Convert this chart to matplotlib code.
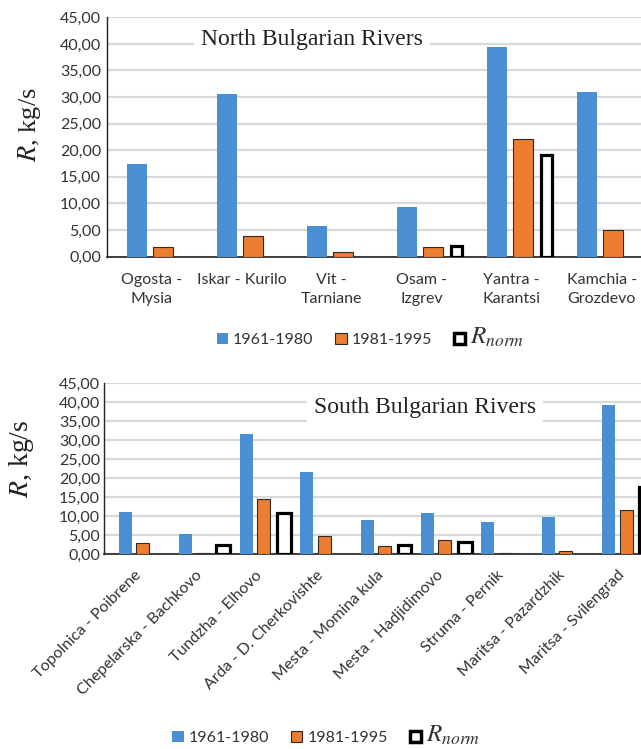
import numpy as np
import matplotlib.pyplot as plt
from matplotlib.patches import Rectangle

# Sediment runoff R (kg/s) for two periods plus the norm value
north_rivers = ['Ogosta -\nMysia', 'Iskar - Kurilo', 'Vit -\nTarniane',
                'Osam -\nIzgrev', 'Yantra -\nKarantsi', 'Kamchia -\nGrozdevo']
north_1961 = [17.4, 30.6, 5.8, 9.4, 39.5, 31.0]
north_1981 = [1.9, 3.9, 0.8, 1.9, 22.1, 5.0]
north_rnorm = [np.nan, np.nan, np.nan, 2.1, 19.1, np.nan]

south_rivers = ['Topolnica - Poibrene', 'Chepelarska - Bachkovo', 'Tundzha - Elhovo',
                'Arda - D. Cherkovishte', 'Mesta - Momina kula', 'Mesta - Hadjidimovo',
                'Struma - Pernik', 'Maritsa - Pazardzhik', 'Maritsa - Svilengrad']
south_1961 = [11.2, 5.3, 31.6, 21.6, 9.0, 10.8, 8.5, 9.9, 39.3]
south_1981 = [3.1, 0.4, 14.5, 4.9, 2.2, 3.9, 0.3, 0.9, 11.7]
south_rnorm = [np.nan, 2.4, 10.9, np.nan, 2.4, 3.3, np.nan, np.nan, 17.8]

yticks = np.arange(0, 50, 5)
ytick_labels = ['%d,00' % v for v in yticks]

BLUE = '#4A8FD4'
ORANGE = '#ED7D31'
GRID = '#D9D9D9'
SANS = ['Lato', 'DejaVu Sans']

plt.rcParams['mathtext.fontset'] = 'stix'
plt.rcParams['font.family'] = SANS

fig = plt.figure(figsize=(6.41, 7.49), dpi=100)


def draw_panel(ax, rivers, v1, v2, vn, offs, w, wn, title, title_xy):
    x = np.arange(len(rivers))
    v1 = np.array(v1)
    v2 = np.array(v2)
    vn = np.array(vn)
    ax.bar(x + offs[0], v1, w, color=BLUE, zorder=3)
    ax.bar(x + offs[1], v2, w, color=ORANGE, edgecolor='#2b2b2b', lw=0.8, zorder=3)
    m = ~np.isnan(vn)
    ax.bar(x[m] + offs[2], vn[m], wn, color='white', edgecolor='black', lw=2.3, zorder=3)

    ax.set_xlim(-0.5, len(rivers) - 0.5)
    ax.set_ylim(0, 45)
    ax.set_yticks(yticks)
    ax.set_yticklabels(ytick_labels)
    ax.yaxis.grid(True, color=GRID, lw=1.6, zorder=0)
    ax.set_axisbelow(True)
    for s in ['top', 'right']:
        ax.spines[s].set_visible(False)
    ax.spines['left'].set_color('#222222')
    ax.spines['bottom'].set_color('#222222')
    ax.spines['left'].set_linewidth(1.0)
    ax.spines['bottom'].set_linewidth(1.2)
    ax.tick_params(axis='both', length=0, labelsize=11.5, colors='#333333')
    ax.tick_params(axis='y', pad=4)
    ax.text(title_xy[0], title_xy[1], title, transform=fig.transFigure,
            ha='center', va='center', fontsize=17, family='Liberation Serif',
            color='#222222', zorder=5,
            bbox=dict(facecolor='white', edgecolor='none', pad=5))


def add_legend(y, xc):
    handles = [Rectangle((0, 0), 1, 1, facecolor=BLUE, edgecolor='none'),
               Rectangle((0, 0), 1, 1, facecolor=ORANGE, edgecolor='#2b2b2b', lw=0.8),
               Rectangle((0, 0), 1, 1, facecolor='white', edgecolor='black', lw=2.5)]
    leg = fig.legend(handles, ['1961-1980', '1981-1995', r'$R_{norm}$'],
                     loc='center', bbox_to_anchor=(xc, y), ncol=3, frameon=False,
                     fontsize=11.5, handlelength=0.7, handleheight=0.7,
                     handletextpad=0.3, columnspacing=1.4)
    leg.get_texts()[2].set_fontsize(18)
    for t in leg.get_texts():
        t.set_color('#333333')


# North Bulgarian rivers
ax1 = fig.add_axes([0.1665, 0.6573, 0.8424, 0.3196])
draw_panel(ax1, north_rivers, north_1961, north_1981, north_rnorm,
           (-0.16, 0.125, 0.385), 0.22, 0.13,
           'North Bulgarian Rivers', (312 / 641, 1 - 40 / 749))
ax1.set_xticks(np.arange(len(north_rivers)))
ax1.set_xticklabels(north_rivers, linespacing=1.45)
ax1.tick_params(axis='x', pad=12)
ax1.set_ylabel(r'$R$, kg/s', fontsize=19, family='Liberation Serif', color='#222222')
ax1.yaxis.set_label_coords(-0.118, 0.55)
add_legend(1 - 337 / 749, 0.578)

# South Bulgarian rivers
ax2 = fig.add_axes([0.1627, 0.2599, 0.848, 0.2283])
draw_panel(ax2, south_rivers, south_1961, south_1981, south_rnorm,
           (-0.15, 0.14, 0.47), 0.215, 0.23,
           'South Bulgarian Rivers', (425 / 641, 1 - 408 / 749))
ax2.set_xticks(np.arange(len(south_rivers)))
ax2.set_xticklabels(south_rivers, rotation=45, ha='right', rotation_mode='anchor')
ax2.tick_params(axis='x', pad=10)
ax2.tick_params(axis='y', pad=3)
ax2.set_ylabel(r'$R$, kg/s', fontsize=20, family='Liberation Serif', color='#222222')
ax2.yaxis.set_label_coords(-0.125, 0.56)
add_legend(1 - 735 / 749, 0.509)

fig.savefig('out.png', dpi=100)
